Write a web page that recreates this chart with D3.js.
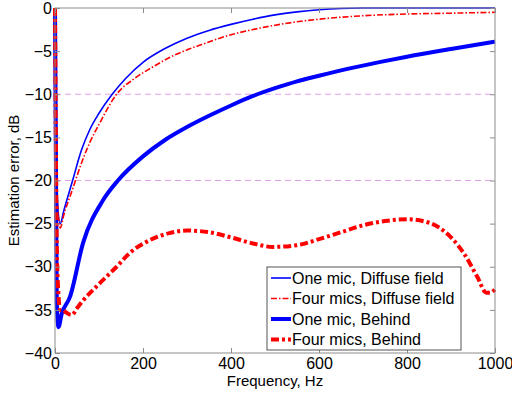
<!DOCTYPE html>
<html>
<head>
<meta charset="utf-8">
<script src="https://cdn.jsdelivr.net/npm/d3@7"></script>
<style>
  body { margin: 0; background: #fff; }
  svg text { font-family: "Liberation Sans", Arial, sans-serif; }
</style>
</head>
<body>
<svg id="chart" width="512" height="393"></svg>
<script>
// frequency samples (Hz) and dB values
var oneDiffF = [0, 5, 12, 20, 40, 60, 80, 100, 130, 160, 200, 250, 300, 350, 400, 450, 500, 550, 600, 650, 700, 800, 900, 1000];
var oneDiffV = [0, -22, -25, -23.5, -20, -16.5, -14, -12.2, -10, -8.2, -6.3, -4.7, -3.5, -2.6, -1.9, -1.3, -0.8, -0.45, -0.2, -0.05, 0, 0, 0, 0];

var fourDiffF = [0, 5, 12, 20, 40, 60, 80, 100, 140, 180, 220, 270, 330, 400, 450, 500, 550, 600, 700, 800, 900, 1000];
var fourDiffV = [0, -22, -25.5, -24, -21, -18, -15.5, -13.5, -10, -8.2, -6.9, -5.5, -4.3, -3.1, -2.5, -2.0, -1.6, -1.3, -0.9, -0.7, -0.6, -0.5];

var oneBehF = [0, 4, 8, 15, 34, 64, 109, 143, 200, 250, 300, 350, 400, 450, 500, 550, 600, 670, 740, 800, 900, 1000];
var oneBehV = [0, -34, -37, -35.5, -33.5, -27.2, -22.3, -20, -17.2, -15.3, -13.8, -12.5, -11.3, -10.2, -9.3, -8.5, -7.85, -7.0, -6.25, -5.65, -4.75, -3.9];

var fourBehF = [0, 5, 12, 18, 25, 38, 50, 64, 100, 140, 170, 216, 260, 300, 350, 400, 450, 495, 550, 600, 650, 700, 750, 800, 850, 900, 930, 960, 980, 990, 1000];
var fourBehV = [0, -30, -35, -35, -35.3, -35.6, -34.8, -33.9, -32, -30, -28.4, -26.9, -26.1, -25.8, -26.0, -26.6, -27.3, -27.7, -27.5, -26.8, -26.0, -25.2, -24.7, -24.5, -24.9, -26.6, -28.5, -31.2, -33, -33, -32.6];

var seriesNames = ["One mic, Diffuse field", "Four mics, Diffuse field", "One mic, Behind", "Four mics, Behind"];
var xTicks = [0, 200, 400, 600, 800, 1000];
var yTicks = [0, -5, -10, -15, -20, -25, -30, -35, -40];
var gridLevels = [-10, -20];

var series = [
  { name: seriesNames[0], f: oneDiffF, v: oneDiffV, color: "#0000ff", width: 1.6, dash: null },
  { name: seriesNames[1], f: fourDiffF, v: fourDiffV, color: "#ff0000", width: 1.6, dash: "6,2,1.5,2" },
  { name: seriesNames[2], f: oneBehF, v: oneBehV, color: "#0000ff", width: 4, dash: null },
  { name: seriesNames[3], f: fourBehF, v: fourBehV, color: "#ff0000", width: 4, dash: "8,3,3,3" }
];

var svg = d3.select("#chart");
var margin = { left: 55, right: 17, top: 8, bottom: 40 };
var W = 512, H = 393;

var x = d3.scaleLinear().domain([0, 1000]).range([margin.left, W - margin.right]);
var y = d3.scaleLinear().domain([-40, 0]).range([H - margin.bottom, margin.top]);

// grid lines
svg.selectAll(".grid")
  .data(gridLevels)
  .enter().append("line")
  .attr("x1", x(0)).attr("x2", x(1000))
  .attr("y1", function(d) { return y(d); })
  .attr("y2", function(d) { return y(d); })
  .attr("stroke", "#e3a0ea")
  .attr("stroke-width", 1)
  .attr("stroke-dasharray", "6,4");

// curves
var line = d3.line()
  .x(function(d) { return x(d[0]); })
  .y(function(d) { return y(d[1]); })
  .curve(d3.curveMonotoneX);

series.forEach(function(s) {
  var pts = s.f.map(function(f, i) { return [f, s.v[i]]; });
  svg.append("path")
    .datum(pts)
    .attr("d", line)
    .attr("fill", "none")
    .attr("stroke", s.color)
    .attr("stroke-width", s.width)
    .attr("stroke-dasharray", s.dash);
});

// axes box
var axisColor = "#8c8c8c";
svg.append("rect")
  .attr("x", x(0)).attr("y", y(0))
  .attr("width", x(1000) - x(0)).attr("height", y(-40) - y(0))
  .attr("fill", "none").attr("stroke", axisColor).attr("stroke-width", 1);

var xAxis = d3.axisBottom(x).tickValues(xTicks).tickSize(-5).tickPadding(5).tickFormat(d3.format("d"));
var gx = svg.append("g").attr("transform", "translate(0," + y(-40) + ")").call(xAxis);
var xTop = d3.axisTop(x).tickValues(xTicks).tickSize(-5).tickFormat("");
var gxt = svg.append("g").attr("transform", "translate(0," + y(0) + ")").call(xTop);

var yAxis = d3.axisLeft(y).tickValues(yTicks).tickSize(-5).tickPadding(3).tickFormat(d3.format("d"));
var gy = svg.append("g").attr("transform", "translate(" + x(0) + ",0)").call(yAxis);
var yRight = d3.axisRight(y).tickValues(yTicks).tickSize(-5).tickFormat("");
var gyr = svg.append("g").attr("transform", "translate(" + x(1000) + ",0)").call(yRight);

[gx, gxt, gy, gyr].forEach(function(g) {
  g.select(".domain").remove();
  g.selectAll(".tick line").attr("stroke", axisColor);
  g.selectAll(".tick text")
    .attr("fill", "#000")
    .style("font-size", "16px")
    .style("font-family", "'Liberation Sans', Arial, sans-serif");
});

// axis titles
svg.append("text")
  .attr("x", (x(0) + x(1000)) / 2)
  .attr("y", 386)
  .attr("text-anchor", "middle")
  .style("font-size", "15px")
  .text("Frequency, Hz");

svg.append("text")
  .attr("transform", "translate(19," + ((y(0) + y(-40)) / 2) + ") rotate(-90)")
  .attr("text-anchor", "middle")
  .style("font-size", "15px")
  .text("Estimation error, dB");

// legend
var lg = svg.append("g").attr("transform", "translate(267,267)");
lg.append("rect")
  .attr("width", 194).attr("height", 83)
  .attr("fill", "#fff").attr("stroke", "#555").attr("stroke-width", 1);

var rows = lg.selectAll(".row")
  .data(series)
  .enter().append("g")
  .attr("transform", function(d, i) { return "translate(0," + (11 + i * 20.5) + ")"; });

rows.append("line")
  .attr("x1", 4).attr("x2", 24)
  .attr("y1", 0).attr("y2", 0)
  .attr("stroke", function(d) { return d.color; })
  .attr("stroke-width", function(d) { return d.width; })
  .attr("stroke-dasharray", function(d) { return d.dash; });

rows.append("text")
  .attr("x", 25)
  .attr("y", 0)
  .attr("dy", "0.35em")
  .style("font-size", "16px")
  .text(function(d) { return d.name; });
</script>
</body>
</html>
